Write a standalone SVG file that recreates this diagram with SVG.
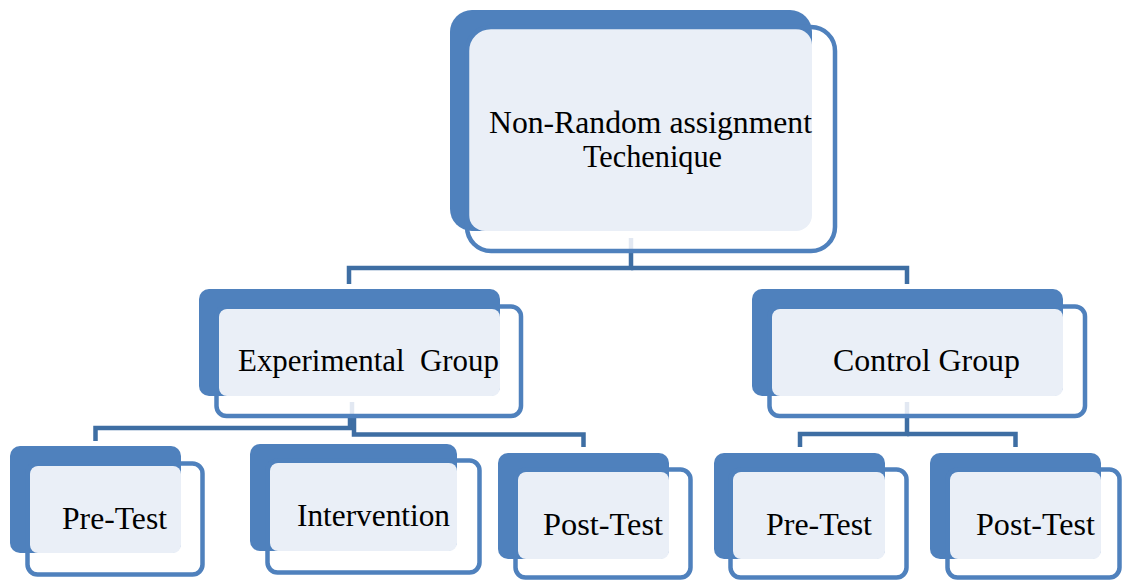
<svg xmlns="http://www.w3.org/2000/svg" width="1122" height="581" viewBox="0 0 1122 581">
<style>
.back{fill:#4F81BD}
.light{fill:#EAEFF7}
.front{fill:none;stroke:#4F81BD;stroke-width:4.5}
.conn{fill:none;stroke:#3E6EA3;stroke-width:4.5;stroke-linejoin:miter}
.stub{fill:none;stroke:#E2E8F2;stroke-width:4.5}
.t{font-family:"Liberation Serif","Times New Roman",serif;font-size:32px;fill:#000;text-anchor:middle}
</style>
<rect width="1122" height="581" fill="#FFFFFF"/>
<g id="connectors">
<path class="conn" d="M631 253 V268 H349 V284"/>
<path class="conn" d="M631 268 H907 V284"/>
<path class="stub" d="M631 238 V252"/>
<path class="conn" d="M350 417 V428 H95.5 V441"/>
<path class="conn" d="M354 417 V434.5 H583.5 V447"/>
<path class="stub" d="M352 402 V416"/>
<path class="conn" d="M907 417 V434 H800 V447"/>
<path class="conn" d="M907 434 H1015.5 V447"/>
<path class="stub" d="M907 402 V416"/>
</g>
<g id="node-root">
<rect class="back" x="450" y="10" width="362" height="221" rx="22"/>
<rect class="light" x="469" y="29" width="343" height="202" rx="16"/>
<rect class="front" x="467" y="27" width="368" height="224" rx="24"/>
<text class="t" x="650.5" y="133" textLength="323" lengthAdjust="spacingAndGlyphs">Non-Random assignment</text>
<text class="t" x="652.5" y="167" textLength="139" lengthAdjust="spacingAndGlyphs">Techenique</text>
</g>
<g id="node-experimental">
<rect class="back" x="199" y="289" width="301" height="107" rx="10"/>
<rect class="light" x="219" y="309" width="281" height="87" rx="8"/>
<rect class="front" x="216.5" y="306.5" width="304.5" height="109.5" rx="10"/>
<text class="t" x="368.5" y="371" textLength="261" lengthAdjust="spacingAndGlyphs" xml:space="preserve">Experimental  Group</text>
</g>
<g id="node-control">
<rect class="back" x="752" y="289" width="311" height="107" rx="10"/>
<rect class="light" x="772" y="309" width="291" height="87" rx="8"/>
<rect class="front" x="769.5" y="306.5" width="315.5" height="109.5" rx="10"/>
<text class="t" x="926.5" y="371" textLength="187" lengthAdjust="spacingAndGlyphs">Control Group</text>
</g>
<g id="node-exp-pretest">
<rect class="back" x="10" y="446" width="171" height="107" rx="10"/>
<rect class="light" x="30" y="466" width="151" height="87" rx="8"/>
<rect class="front" x="27.5" y="463.5" width="175" height="111" rx="10"/>
<text class="t" x="114.5" y="529" textLength="105" lengthAdjust="spacingAndGlyphs">Pre-Test</text>
</g>
<g id="node-intervention">
<rect class="back" x="250" y="444" width="207" height="107" rx="10"/>
<rect class="light" x="270" y="463" width="187" height="88" rx="8"/>
<rect class="front" x="267.5" y="460.5" width="212" height="112" rx="10"/>
<text class="t" x="373.5" y="526" textLength="153" lengthAdjust="spacingAndGlyphs">Intervention</text>
</g>
<g id="node-exp-posttest">
<rect class="back" x="498" y="453" width="171" height="106" rx="10"/>
<rect class="light" x="518" y="472" width="151" height="87" rx="8"/>
<rect class="front" x="515.5" y="469.5" width="175" height="108" rx="10"/>
<text class="t" x="603" y="535" textLength="120" lengthAdjust="spacingAndGlyphs">Post-Test</text>
</g>
<g id="node-ctrl-pretest">
<rect class="back" x="714" y="453" width="171" height="106" rx="10"/>
<rect class="light" x="733" y="472" width="152" height="87" rx="8"/>
<rect class="front" x="730.5" y="469.5" width="176" height="108" rx="10"/>
<text class="t" x="819" y="535" textLength="106" lengthAdjust="spacingAndGlyphs">Pre-Test</text>
</g>
<g id="node-ctrl-posttest">
<rect class="back" x="930" y="453" width="171" height="106" rx="10"/>
<rect class="light" x="950" y="472" width="151" height="87" rx="8"/>
<rect class="front" x="947.5" y="469.5" width="172" height="108" rx="10"/>
<text class="t" x="1035.5" y="535" textLength="119" lengthAdjust="spacingAndGlyphs">Post-Test</text>
</g>
</svg>
